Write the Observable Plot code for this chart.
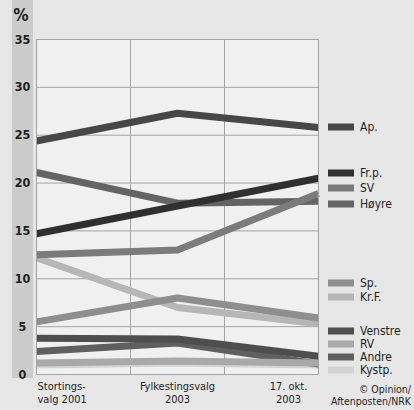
<!DOCTYPE html>
<html><head><meta charset="utf-8">
<script src="https://cdn.jsdelivr.net/npm/d3@7"></script>
<script src="https://cdn.jsdelivr.net/npm/@observablehq/plot@0.6"></script>
<style>
body{margin:0;background:#e6e6e6;}
#chart svg{display:block}
</style></head><body><div id="chart"></div>
<script>
// ---- data ----
const periods = ["Stortings-\nvalg 2001", "Fylkestingsvalg\n2003", "17. okt.\n2003"];
const periodPos = [0, 1.5, 3];
const parties = ["Ap.", "Fr.p.", "SV", "Høyre", "Sp.", "Kr.F.", "Venstre", "RV", "Andre", "Kystp."];
const ap      = [24.4, 27.3, 25.8];
const frp     = [14.7, 17.6, 20.5];
const sv      = [12.5, 13.0, 18.9];
const hoyre   = [21.1, 17.9, 18.1];
const sp      = [5.5, 8.0, 5.9];
const krf     = [12.2, 7.0, 5.3];
const venstre = [3.8, 3.7, 1.9];
const rv      = [1.2, 1.4, 1.2];
const andre   = [2.4, 3.3, 1.1];
const kystp   = [1.0, 1.2, 1.0];
const yTicks = [0, 5, 10, 15, 20, 25, 30, 35];
const source = "© Opinion/\nAftenposten/NRK";

const series = [ap, frp, sv, hoyre, sp, krf, venstre, rv, andre, kystp];
const colors = ["#474747", "#303030", "#7b7b7b", "#646464", "#8e8e8e", "#b6b6b6", "#4e4e4e", "#a9a9a9", "#5f5f5f", "#d3d3d3"];

const rows = [];
for (let i = parties.length - 1; i >= 0; i--) {
  series[i].forEach((v, j) => rows.push({party: parties[i], x: periodPos[j], v}));
}

const font = "'Liberation Sans Narrow', 'DejaVu Sans Condensed', 'Noto Sans', sans-serif";
const W = 414, H = 410, mL = 36, mR = 96, mT = 39, mB = 36;

const chart = Plot.plot({
  width: W, height: H,
  marginLeft: mL, marginRight: mR, marginTop: mT, marginBottom: mB,
  style: {background: "transparent", fontFamily: font, color: "#1e1e1e"},
  x: {domain: [0, 3], axis: null},
  y: {domain: [0, 35], axis: null},
  color: {domain: parties, range: colors},
  marks: [
    Plot.frame({fill: "#f0f0f0", stroke: null}),
    Plot.ruleY(yTicks.filter(d => d > 0 && d < 35), {stroke: "#a4a4a4", strokeWidth: 1}),
    Plot.ruleX([1, 2], {stroke: "#a4a4a4", strokeWidth: 1}),
    Plot.line(rows, {x: "x", y: "v", z: "party", stroke: "party", strokeWidth: 7, strokeLinecap: "butt", strokeLinejoin: "round"}),
    Plot.frame({stroke: "#a4a4a4", strokeWidth: 1}),
    Plot.axisY({ticks: yTicks, tickSize: 0, tickPadding: 14, fontSize: 12.5, fontWeight: "bold", textAnchor: "middle", label: null}),
    Plot.text([periods[0]], {x: periodPos[0], frameAnchor: "bottom", dy: 7, dx: 1, textAnchor: "start", lineAnchor: "top", fontSize: 11, lineHeight: 1.15, text: d => d}),
    Plot.text([periods[1]], {x: periodPos[1], frameAnchor: "bottom", dy: 7, textAnchor: "middle", lineAnchor: "top", fontSize: 11, lineHeight: 1.15, text: d => d}),
    Plot.text([periods[2]], {x: periodPos[2], frameAnchor: "bottom", dy: 7, dx: -30, textAnchor: "middle", lineAnchor: "top", fontSize: 11, lineHeight: 1.15, text: d => d})
  ]
});

const svg = d3.select(chart);
// y-axis strip behind everything
svg.insert("rect", ":first-child").attr("x", 12).attr("y", 0).attr("width", 21).attr("height", 378).attr("fill", "#cbcbcb");
// % sign
svg.append("text").attr("x", 21).attr("y", 21).attr("text-anchor", "middle")
  .attr("font-size", 17).attr("font-weight", "bold").attr("fill", "#1e1e1e").text("%");
// legend
const legendY = [127, 173, 188, 204, 283, 297, 331, 344, 357, 370];
const lg = svg.append("g").attr("font-size", 12).attr("fill", "#1e1e1e").attr("text-anchor", "start");
parties.forEach((p, i) => {
  lg.append("rect").attr("x", 328).attr("y", legendY[i] - 3.5).attr("width", 26).attr("height", 7).attr("fill", colors[i]);
  lg.append("text").attr("x", 360).attr("y", legendY[i]).attr("dy", "0.36em").attr("text-anchor", "start").text(p);
});
// source
const src = svg.append("text").attr("text-anchor", "end").attr("font-size", 10.5).attr("fill", "#1e1e1e");
source.split("\n").forEach((t, i) => src.append("tspan").attr("x", 411).attr("y", 393 + i * 12).text(t));

document.getElementById("chart").appendChild(chart);
</script>
</body></html>
